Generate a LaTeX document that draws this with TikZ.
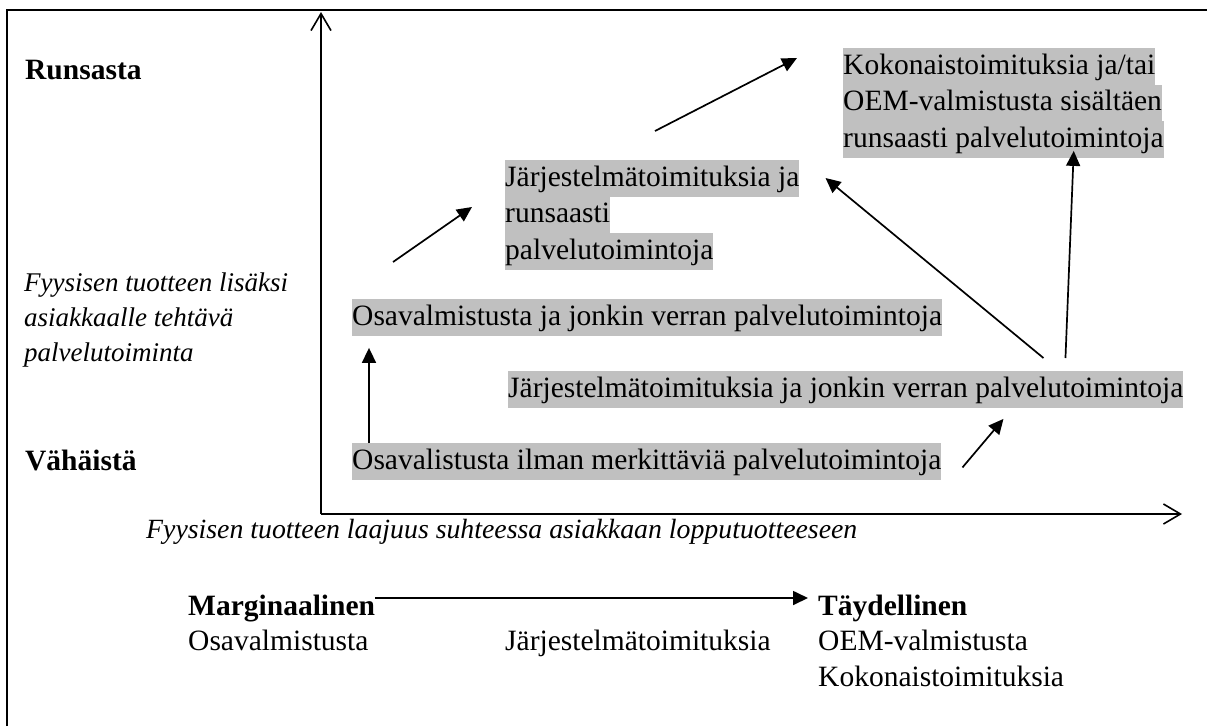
\documentclass[tikz,border=0pt]{standalone}
\usepackage{fontspec}
\setmainfont{Liberation Serif}
\usetikzlibrary{arrows.meta,calc}
\definecolor{hlgray}{HTML}{C0C0C0}
\newcommand{\hlbox}[1]{{\setlength{\fboxsep}{0pt}\colorbox{hlgray}{\rule[-10.5pt]{0pt}{36.5pt}#1}}}
\begin{document}
\begin{tikzpicture}[x=1pt,y=-1pt,
  box/.style={font=\fontsize{29.5}{36.5}\selectfont, inner sep=0pt, anchor=north west, align=left},
  txt/.style={font=\fontsize{29.5}{36.5}\selectfont, inner sep=0pt, anchor=base west},
  lbl/.style={font=\fontsize{29.5}{36.5}\selectfont\bfseries, inner sep=0pt, anchor=base west},
  itl/.style={font=\fontsize{27}{35}\selectfont\itshape, inner sep=0pt, anchor=base west},
  conn/.style={line width=1.7pt, -{Triangle[length=15pt,width=14pt]}},
  axisarr/.style={line width=1.6pt, -{Straight Barb[length=17pt,width=20pt,line width=1.6pt]}}
]
\useasboundingbox (0,0) rectangle (1207,726);
% frame
\draw[line width=2.2pt] (7,726) -- (7,10) -- (1207,10);
% axes
\coordinate (O) at (321,514);
\coordinate (ytip) at (321,12);
\coordinate (xtip) at (1182,514);
\draw[axisarr] (O) -- (ytip);
\draw[axisarr] (O) -- (xtip);
% left labels
\node[lbl] (runs) at (25,79) {Runsasta};
\node[itl] (yl1) at (24,291) {Fyysisen tuotteen lisäksi};
\node[itl] (yl2) at (24,326) {asiakkaalle tehtävä};
\node[itl] (yl3) at (24,361) {palvelutoiminta};
\node[lbl] (vah) at (25,470) {Vähäistä};
% boxes
\node[box] (b1) at (843,48) {\hlbox{Kokonaistoimituksia ja/tai}\\\hlbox{OEM-valmistusta sisältäen}\\\hlbox{runsaasti palvelutoimintoja}};
\node[box] (b2) at (505,160) {\hlbox{Järjestelmätoimituksia ja}\\\hlbox{runsaasti}\\\hlbox{palvelutoimintoja}};
\node[box] (b3) at (352,299) {\hlbox{Osavalmistusta ja jonkin verran palvelutoimintoja}};
\node[box] (b4) at (508,371) {\hlbox{Järjestelmätoimituksia ja jonkin verran palvelutoimintoja}};
\node[box] (b5) at (352,443) {\hlbox{Osavalistusta ilman merkittäviä palvelutoimintoja}};
% connectors
\draw[conn] ($(b5.north west)+(17,0)$) -- ($(b3.south west)+(17,12)$);
\draw[conn] ($(b3.north west)+(41,-37)$) -- ($(b2.north west)+(-33,47)$);
\draw[conn] ($(b2.north west)+(150,-29)$) -- ($(b1.north west)+(-46,10)$);
\draw[conn] ($(b5.east)+(21,6)$) -- ($(b4.south east)+(-180,11)$);
\draw[conn] ($(b4.north east)+(-140,-13)$) -- ($(b2.north east)+(26,18)$);
\draw[conn] ($(b4.north east)+(-118,-13)$) -- ($(b1.south east)+(-90,-7)$);
% x-axis label
\node[itl, font=\fontsize{27.8}{35}\selectfont\itshape] (xl) at (146,538) {Fyysisen tuotteen laajuus suhteessa asiakkaan lopputuotteeseen};
% bottom scale
\node[lbl] (marg) at (188,615) {Marginaalinen};
\node[lbl] (tayd) at (818,615) {Täydellinen};
\draw[conn] ([yshift=17pt]marg.base east) -- ([yshift=17pt,xshift=-10pt]tayd.base west);
\node[txt] (osa) at (188,650) {Osavalmistusta};
\node[txt] (jar) at (505,650) {Järjestelmätoimituksia};
\node[txt] (oem) at (818,650) {OEM-valmistusta};
\node[txt] (kok) at (818,686) {Kokonaistoimituksia};
\end{tikzpicture}
\end{document}
